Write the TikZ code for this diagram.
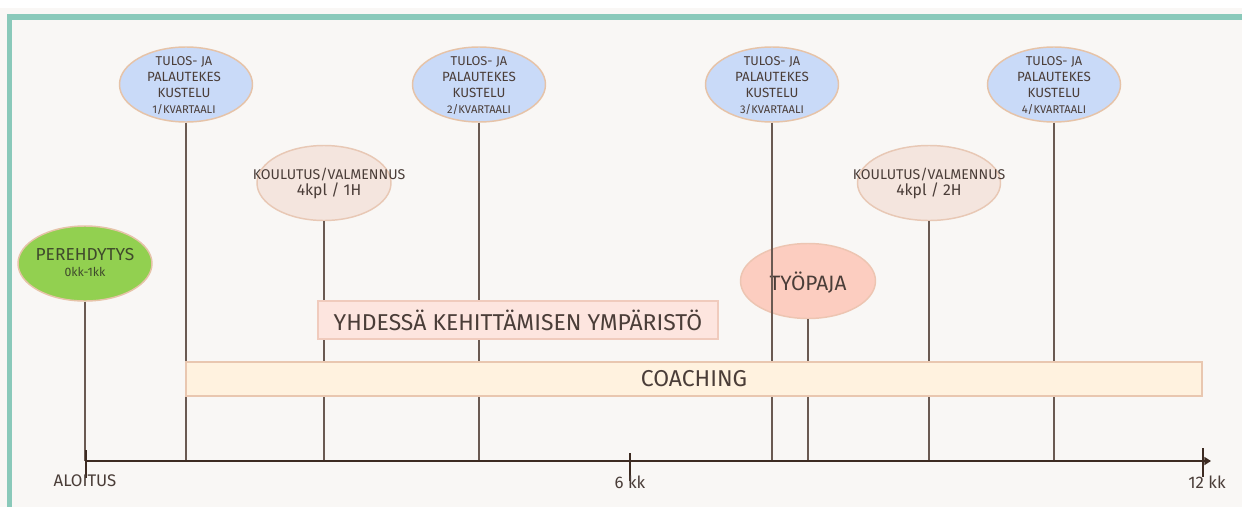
\documentclass[tikz,border=0pt]{standalone}
\usepackage{fontspec}
\setmainfont{Fira Sans}
\usetikzlibrary{shapes.geometric,arrows.meta}
\definecolor{bgc}{HTML}{F9F7F5}
\definecolor{teal}{HTML}{8AC9BA}
\definecolor{qfill}{HTML}{C9DAF8}
\definecolor{qdraw}{HTML}{E6C3A8}
\definecolor{kfill}{HTML}{F4E5DE}
\definecolor{kdraw}{HTML}{E8C8B5}
\definecolor{gfill}{HTML}{92D050}
\definecolor{tfill}{HTML}{FCCDC0}
\definecolor{tdraw}{HTML}{EDC5B2}
\definecolor{yfill}{HTML}{FDE5DF}
\definecolor{ydraw}{HTML}{F0CBBD}
\definecolor{cfill}{HTML}{FFF2DF}
\definecolor{cdraw}{HTML}{E9C7B0}
\definecolor{vl}{HTML}{6A5A52}
\definecolor{axc}{HTML}{3D2B22}
\definecolor{txt}{HTML}{4A3D38}
\definecolor{gtxt}{HTML}{3F4A2C}
\tikzset{
  oval/.style={ellipse,inner sep=0pt,line width=1.1pt},
  quarter/.style={oval,fill=qfill,draw=qdraw,minimum width=99.75pt,minimum height=56.25pt},
  course/.style={oval,fill=kfill,draw=kdraw,minimum height=56.25pt},
  label/.style={align=center,text=txt,inner sep=0pt},
  band/.style={rectangle,line width=1.1pt,inner sep=0pt,text=txt},
  vline/.style={draw=vl,line width=0.8pt},
  tick/.style={draw=axc,line width=1.6pt},
  axlabel/.style={text=txt,inner sep=0pt,font=\fontsize{12.6}{14}\selectfont},
}
\newcommand{\qtext}[1]{\fontsize{9.6}{11.25}\selectfont TULOS- JA\\PALAUTEKES\\KUSTELU\\{\fontsize{8.4}{11.25}\selectfont #1/KVARTAALI}}
\begin{document}
\begin{tikzpicture}[x=0.75pt,y=-0.75pt]
\useasboundingbox (0,0) rectangle (1242,507);
% page background and teal frame
\fill[white] (0,0) rectangle (1242,507);
\fill[bgc] (0,8) rectangle (1242,507);
\fill[teal] (7,14) rectangle (1242,20);
\fill[teal] (7,14) rectangle (12,507);

% axis anchors
\coordinate (t0) at (86,461);
\coordinate (t6) at (630,461);
\coordinate (t12) at (1203,461);
\coordinate (tend) at (1211,461);

% workshop sits under the third quarterly line
\node[oval,fill=tfill,draw=tdraw,minimum width=101.25pt,minimum height=56.25pt] (ty) at (808,281) {};
\node[label,font=\fontsize{15.6}{18}\selectfont] (tyt) at (808,283) {TYÖPAJA};

% quarterly feedback discussions
\node[quarter] (q1) at (186,84.5) {};
\node[quarter] (q2) at (479,84.5) {};
\node[quarter] (q3) at (772,84.5) {};
\node[quarter] (q4) at (1054,84.5) {};
\node[label] (q1t) at (184,86) {\qtext{1}};
\node[label] (q2t) at (479,86) {\qtext{2}};
\node[label] (q3t) at (772,86) {\qtext{3}};
\node[label] (q4t) at (1054,86) {\qtext{4}};

% training sessions
\node[course,minimum width=100.5pt] (k1) at (324,183) {};
\node[course,minimum width=107.25pt] (k2) at (929,183) {};
\node[label] (k1t) at (329,183) {{\fontsize{10.6}{15}\selectfont KOULUTUS/VALMENNUS}\\{\fontsize{11.8}{15}\selectfont 4kpl / 1H}};
\node[label] (k2t) at (929,183) {{\fontsize{10.6}{15}\selectfont KOULUTUS/VALMENNUS}\\{\fontsize{11.8}{15}\selectfont 4kpl / 2H}};

% orientation
\node[oval,fill=gfill,draw=qdraw,minimum width=100.5pt,minimum height=56.25pt] (p) at (85,263.5) {};
\node[label,text=gtxt] (pt) at (85,262) {{\fontsize{13}{14}\selectfont PEREHDYTYS}\\{\fontsize{9.2}{12}\selectfont 0kk-1kk}};

% drop lines to the axis
\foreach \n in {p,q1,k1,q2,q3,ty,k2,q4}
  \draw[vline] (\n.south) -- (\n.south |- t0);

% development environment and coaching bands
\node[band,fill=yfill,draw=ydraw,minimum width=300pt,minimum height=28.5pt,font=\fontsize{17.2}{20}\selectfont] (yh) at (518,320) {YHDESSÄ KEHITTÄMISEN YMPÄRISTÖ};
\node[band,fill=cfill,draw=cdraw,minimum width=762pt,minimum height=25.5pt,font=\fontsize{17.2}{20}\selectfont] (co) at (694,379) {COACHING};

% timeline
\draw[draw=axc,line width=1.6pt,-{Triangle[length=5pt,width=6pt]}] (t0) -- (tend);
\draw[tick] ([yshift=-17*0.75pt]t0) -- ([yshift=11*0.75pt]t0);
\draw[tick] ([yshift=-20*0.75pt]t6) -- ([yshift=8*0.75pt]t6);
\draw[tick] ([yshift=-16*0.75pt]t12) -- ([yshift=13*0.75pt]t12);
\node[axlabel] (l0) at (85,481) {ALOITUS};
\node[axlabel] (l6) at (630,482) {6 kk};
\node[axlabel] (l12) at (1207,482) {12 kk};
\end{tikzpicture}
\end{document}
